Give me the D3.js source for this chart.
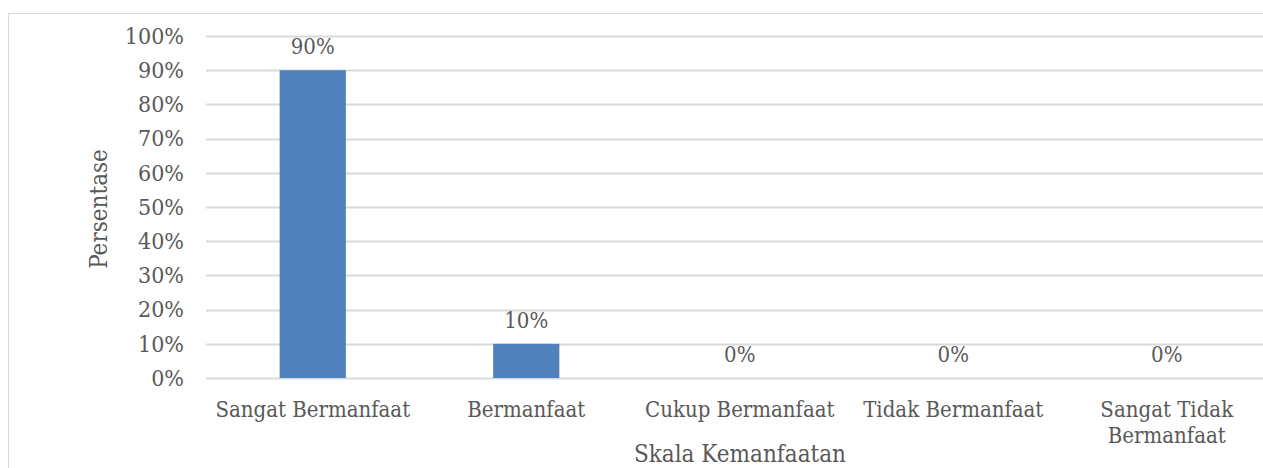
<!DOCTYPE html>
<html>
<head>
<meta charset="utf-8">
<script src="https://cdn.jsdelivr.net/npm/d3@7"></script>
<style>
  body { margin: 0; background: #fff; }
  text { font-family: "DejaVu Serif Condensed", "DejaVu Serif", serif; font-stretch: condensed; fill: #595959; }
</style>
</head>
<body>
<script>
// data
const categories = ["Sangat Bermanfaat", "Bermanfaat", "Cukup Bermanfaat", "Tidak Bermanfaat", "Sangat Tidak Bermanfaat"];
const values = [90, 10, 0, 0, 0];
const yTicks = [0, 10, 20, 30, 40, 50, 60, 70, 80, 90, 100];

const width = 1263;
const height = 468;

const svg = d3.select('body')
  .append('svg')
  .attr('width', width)
  .attr('height', height);

// chart frame
svg.append('rect')
  .attr('x', 8.5).attr('y', 13.5)
  .attr('width', 1300).attr('height', 500)
  .attr('fill', 'none')
  .attr('stroke', '#d9d9d9');

const x = d3.scaleBand()
  .domain(categories)
  .range([206, 1273.5])
  .paddingInner(0.69)
  .paddingOuter(0.345);

const y = d3.scaleLinear()
  .domain([0, 100])
  .range([378, 36]);

// gridlines
svg.append('g')
  .selectAll('line')
  .data(yTicks)
  .enter()
  .append('line')
  .attr('x1', 206)
  .attr('x2', width)
  .attr('y1', (d) => Math.round(y(d)) + 0.5)
  .attr('y2', (d) => Math.round(y(d)) + 0.5)
  .attr('stroke', '#d9d9d9')
  .attr('stroke-width', 2);

// y axis labels
const yAxis = svg.append('g')
  .attr('transform', 'translate(184,0)')
  .call(d3.axisLeft(y).tickValues(yTicks).tickSize(0).tickPadding(0).tickFormat((d) => d + '%'));
yAxis.select('.domain').remove();
yAxis.selectAll('text')
  .style('font-size', '23px')
  .attr('fill', '#595959');

// bars
svg.append('g')
  .selectAll('rect')
  .data(values)
  .enter()
  .append('rect')
  .attr('x', (d, i) => x(categories[i]))
  .attr('y', (d) => y(d))
  .attr('width', x.bandwidth())
  .attr('height', (d) => y(0) - y(d))
  .attr('fill', '#4f81bd');

// data labels
svg.append('g')
  .selectAll('text')
  .data(values)
  .enter()
  .append('text')
  .attr('x', (d, i) => x(categories[i]) + x.bandwidth() / 2)
  .attr('y', (d) => y(d) - 16)
  .attr('text-anchor', 'middle')
  .style('font-size', '22px')
  .text((d) => d + '%');

// category labels (wrap last one)
const catLines = [["Sangat Bermanfaat"], ["Bermanfaat"], ["Cukup Bermanfaat"], ["Tidak Bermanfaat"], ["Sangat Tidak", "Bermanfaat"]];
const catG = svg.append('g');
categories.forEach((c, i) => {
  const t = catG.append('text')
    .attr('x', x(c) + x.bandwidth() / 2)
    .attr('y', 417)
    .attr('text-anchor', 'middle')
    .style('font-size', '22px');
  catLines[i].forEach((line, j) => {
    t.append('tspan')
      .attr('x', x(c) + x.bandwidth() / 2)
      .attr('dy', j === 0 ? 0 : 26)
      .text(line);
  });
});

// axis titles
svg.append('text')
  .attr('transform', 'translate(107,209) rotate(-90)')
  .attr('text-anchor', 'middle')
  .style('font-size', '24px')
  .text('Persentase');

svg.append('text')
  .attr('x', 740)
  .attr('y', 462)
  .attr('text-anchor', 'middle')
  .style('font-size', '24px')
  .text('Skala Kemanfaatan');
</script>
</body>
</html>
